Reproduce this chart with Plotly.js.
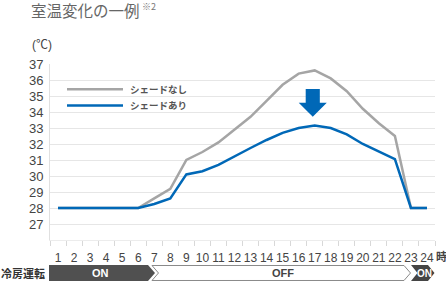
<!DOCTYPE html>
<html><head><meta charset="utf-8">
<script src="https://cdn.plot.ly/plotly-3.0.1.min.js"></script>
<style>html,body{margin:0;padding:0;background:#fff;}#c{width:446px;height:282px;}</style>
</head><body><div id="c"></div>
<script>
const hours = ['1','2','3','4','5','6','7','8','9','10','11','12','13','14','15','16','17','18','19','20','21','22','23','24'];
const noShade = [28,28,28,28,28,28,28.6,29.2,31.0,31.5,32.1,32.9,33.7,34.7,35.7,36.4,36.6,36.1,35.3,34.2,33.3,32.5,28,28];
const withShade = [28,28,28,28,28,28,28.25,28.6,30.1,30.3,30.7,31.25,31.75,32.25,32.7,33.0,33.15,33.0,32.6,32.0,31.5,31.05,28,28];
const yTicks = [27,28,29,30,31,32,33,34,35,36,37];
const seriesNames = ['シェードなし','シェードあり'];
const colors = ['#a5a5a5','#0068b7'];

const L=50, R=435, T=64, B=240;
const px = x => (x-L)/(R-L);
const py = y => (B-y)/(B-T);
function path(pts){return 'M'+pts.map(p=>px(p[0]).toFixed(4)+','+py(p[1]).toFixed(4)).join(' L')+' Z';}
const font = 'Liberation Sans, Arial, Noto Sans CJK JP, sans-serif';
const jp = 'Noto Sans CJK JP, sans-serif';

const traces = [
  {x:hours, y:noShade, type:'scatter', mode:'lines', line:{color:colors[0], width:2.5}, name:seriesNames[0], hoverinfo:'skip'},
  {x:hours, y:withShade, type:'scatter', mode:'lines', line:{color:colors[1], width:2.5}, name:seriesNames[1], hoverinfo:'skip'}
];

// arrow at peak hour
const peak = noShade.indexOf(Math.max(...noShade));
const ac = peak - 0.12;
const arrowPath = `M${ac-0.44},35.44 L${ac+0.44},35.44 L${ac+0.44},34.58 L${ac+0.875},34.58 L${ac},33.7 L${ac-0.875},34.58 L${ac-0.44},34.58 Z`;

const shapes = [
  {type:'path', xref:'x', yref:'y', path:arrowPath, fillcolor:colors[1], line:{width:0}},
  {type:'line', xref:'paper', yref:'paper', x0:px(67), x1:px(123), y0:py(89.3), y1:py(89.3), line:{color:colors[0], width:2.5}},
  {type:'line', xref:'paper', yref:'paper', x0:px(67), x1:px(123), y0:py(105.5), y1:py(105.5), line:{color:colors[1], width:2.5}},
  {type:'path', xref:'paper', yref:'paper', path:path([[49,265],[148,265],[155,273],[148,281],[49,281]]), fillcolor:'#505050', line:{width:0}},
  {type:'path', xref:'paper', yref:'paper', path:path([[152,265.5],[404,265.5],[410.5,273],[404,280.5],[152,280.5],[158.5,273]]), fillcolor:'#ffffff', line:{color:'#8a8a8a', width:1}},
  {type:'path', xref:'paper', yref:'paper', path:path([[411,265],[428,265],[434.5,273],[428,281],[411,281],[417.5,273]]), fillcolor:'#454545', line:{width:0}}
];

function ann(text, x, y, opts){
  return Object.assign({text:text, xref:'paper', yref:'paper', x:px(x), y:py(y), showarrow:false, xanchor:'left', align:'left', yanchor:'middle', font:{family:font, size:12, color:'#444'}}, opts||{});
}
const annotations = [
  ann('室温変化の一例', 30, 10, {borderpad:0, font:{family:jp, size:15.5, color:'#666'}}),
  ann('※2', 141, 7, {borderpad:0, font:{family:jp, size:9, color:'#777'}}),
  ann('(℃)', 30, 45, {font:{family:font, size:12, color:'#444'}}),
  ann('<b>'+seriesNames[0]+'</b>', 128, 89, {font:{family:jp, size:9.5, color:'#555'}}),
  ann('<b>'+seriesNames[1]+'</b>', 128, 105, {font:{family:jp, size:9.5, color:'#555'}}),
  ann('<b>時</b>', 434, 256, {font:{family:jp, size:11, color:'#444'}}),
  ann('<b>冷房運転</b>', -1, 273, {font:{family:jp, size:11, color:'#333'}}),
  ann('<b>ON</b>', 100, 273, {xanchor:'center', align:'center', font:{family:font, size:11, color:'#fff'}}),
  ann('<b>OFF</b>', 283, 273, {xanchor:'center', align:'center', font:{family:font, size:11, color:'#444'}}),
  ann('<b>ON</b>', 424, 273, {xanchor:'center', align:'center', font:{family:font, size:10, color:'#fff'}})
];

const layout = {
  width:446, height:282,
  margin:{l:L, r:446-R, t:T, b:282-B, pad:0},
  paper_bgcolor:'#fff', plot_bgcolor:'#fff',
  showlegend:false,
  font:{family:font, size:12, color:'#444'},
  xaxis:{type:'category', range:[-0.5,23.5], tickangle:0, tickson:'boundaries', ticks:'outside', ticklen:5, tickcolor:'#d8d8d8', ticklabelstandoff:7, showgrid:false, showline:true, linecolor:'#ececec', linewidth:1, zeroline:false, tickfont:{family:font, size:12, color:'#444'}, fixedrange:true},
  yaxis:{range:[26,37], tickvals:yTicks, showgrid:true, gridcolor:'#e6e6e6', gridwidth:1, showline:true, linecolor:'#e0e0e0', zeroline:false, ticks:'', ticklabelstandoff:3, tickfont:{family:font, size:13, color:'#444'}, fixedrange:true},
  shapes:shapes, annotations:annotations
};
Plotly.newPlot('c', traces, layout, {staticPlot:true, displayModeBar:false});
</script></body></html>
